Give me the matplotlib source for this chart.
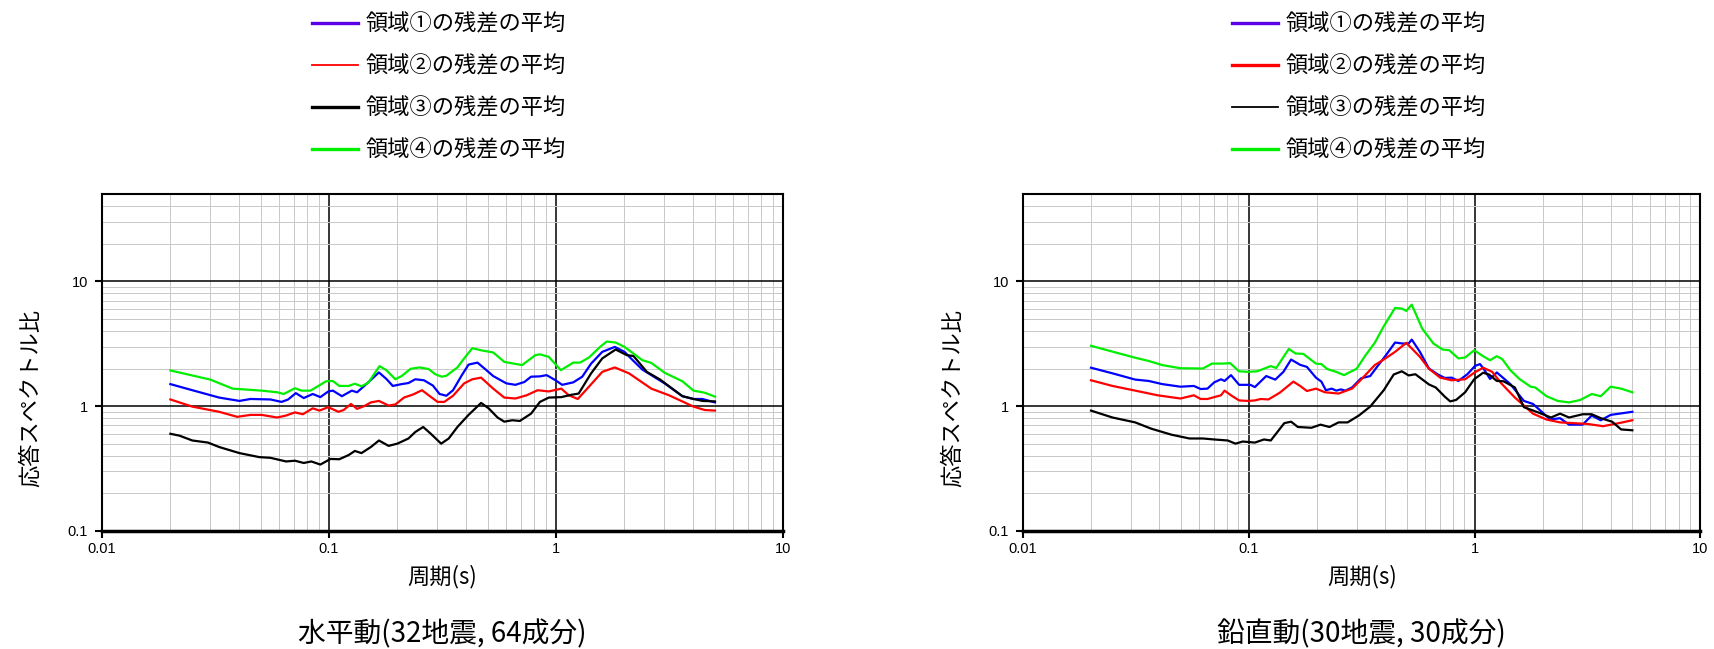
import numpy as np
import matplotlib
matplotlib.use('Agg')
import matplotlib.pyplot as plt
from matplotlib.ticker import LogLocator, FuncFormatter, NullFormatter
from matplotlib.lines import Line2D

plt.rcParams['font.family'] = ['Noto Sans CJK JP', 'DejaVu Sans']

labels = ['領域①の残差の平均', '領域②の残差の平均', '領域③の残差の平均', '領域④の残差の平均']
titles = ['水平動(32地震, 64成分)', '鉛直動(30地震, 30成分)']

# horizontal component
h1_t = [0.02, 0.025, 0.0328, 0.0403, 0.0451, 0.0552, 0.0618, 0.0661, 0.0714, 0.0774, 0.0848, 0.0916,
        0.0993, 0.104, 0.114, 0.126, 0.133, 0.146, 0.166, 0.179, 0.191, 0.209, 0.224, 0.240, 0.262,
        0.287, 0.307, 0.329, 0.352, 0.385, 0.412, 0.451, 0.494, 0.529, 0.605, 0.663, 0.726, 0.777,
        0.850, 0.910, 0.996, 1.065, 1.193, 1.306, 1.429, 1.60, 1.817, 2.005, 2.196, 2.404, 2.631,
        3.012, 3.608, 4.038, 4.422, 5.02]
h1_v = [1.50, 1.34, 1.17, 1.10, 1.14, 1.13, 1.08, 1.13, 1.27, 1.16, 1.25, 1.18,
        1.31, 1.33, 1.20, 1.33, 1.29, 1.50, 1.86, 1.65, 1.45, 1.50, 1.53, 1.64, 1.61,
        1.46, 1.25, 1.21, 1.34, 1.77, 2.15, 2.23, 1.94, 1.74, 1.52, 1.48, 1.56, 1.72,
        1.73, 1.77, 1.61, 1.48, 1.55, 1.72, 2.19, 2.72, 2.98, 2.72, 2.30, 1.96, 1.77,
        1.52, 1.20, 1.14, 1.14, 1.07]
h2_t = [0.02, 0.025, 0.0328, 0.0394, 0.0451, 0.0505, 0.0591, 0.0647, 0.0708, 0.0767, 0.0848, 0.0907,
        0.0993, 0.110, 0.116, 0.125, 0.133, 0.143, 0.153, 0.166, 0.183, 0.196, 0.214, 0.235, 0.257,
        0.275, 0.301, 0.322, 0.352, 0.394, 0.428, 0.468, 0.529, 0.592, 0.663, 0.742, 0.831, 0.930,
        1.056, 1.140, 1.248, 1.398, 1.60, 1.817, 2.098, 2.631, 3.151, 4.038, 4.526, 5.02]
h2_v = [1.13, 0.99, 0.90, 0.82, 0.85, 0.85, 0.81, 0.84, 0.89, 0.86, 0.96, 0.92,
        0.98, 0.90, 0.93, 1.04, 0.95, 1.00, 1.07, 1.10, 1.01, 1.03, 1.17, 1.24, 1.34,
        1.22, 1.08, 1.08, 1.21, 1.52, 1.64, 1.69, 1.38, 1.17, 1.15, 1.22, 1.34, 1.31,
        1.38, 1.22, 1.14, 1.43, 1.88, 2.04, 1.83, 1.38, 1.22, 0.99, 0.93, 0.92]
h3_t = [0.02, 0.0219, 0.025, 0.0293, 0.0328, 0.0403, 0.0493, 0.0552, 0.0647, 0.0708, 0.0774, 0.0836,
        0.0916, 0.1016, 0.111, 0.122, 0.130, 0.139, 0.153, 0.166, 0.183, 0.200, 0.224, 0.240, 0.260,
        0.281, 0.312, 0.337, 0.368, 0.412, 0.468, 0.505, 0.553, 0.592, 0.642, 0.693, 0.777, 0.850,
        0.930, 1.056, 1.166, 1.259, 1.429, 1.60, 1.833, 2.051, 2.196, 2.515, 2.879, 3.608, 4.038,
        4.422, 5.02]
h3_v = [0.60, 0.58, 0.53, 0.51, 0.47, 0.42, 0.39, 0.385, 0.36, 0.365, 0.35, 0.36,
        0.34, 0.377, 0.375, 0.405, 0.437, 0.42, 0.47, 0.53, 0.48, 0.50, 0.55, 0.62, 0.68,
        0.60, 0.50, 0.55, 0.68, 0.85, 1.06, 0.96, 0.81, 0.75, 0.77, 0.76, 0.87, 1.08,
        1.17, 1.18, 1.23, 1.26, 1.83, 2.41, 2.84, 2.56, 2.52, 1.88, 1.63, 1.20, 1.14,
        1.10, 1.09]
h4_t = [0.02, 0.030, 0.0376, 0.0505, 0.0591, 0.0632, 0.0708, 0.0757, 0.0829, 0.0887, 0.0971, 0.1039,
        0.111, 0.122, 0.130, 0.139, 0.149, 0.167, 0.179, 0.196, 0.209, 0.229, 0.251, 0.275, 0.294,
        0.314, 0.329, 0.368, 0.394, 0.428, 0.472, 0.529, 0.592, 0.709, 0.812, 0.850, 0.930, 1.051,
        1.193, 1.277, 1.398, 1.565, 1.674, 1.833, 2.005, 2.404, 2.631, 3.012, 3.608, 4.038, 4.526,
        5.02]
h4_v = [1.93, 1.63, 1.38, 1.33, 1.29, 1.25, 1.39, 1.33, 1.33, 1.43, 1.58, 1.59,
        1.45, 1.45, 1.51, 1.44, 1.54, 2.09, 1.94, 1.64, 1.74, 1.99, 2.04, 1.98, 1.80,
        1.72, 1.75, 2.04, 2.41, 2.91, 2.79, 2.69, 2.26, 2.13, 2.56, 2.60, 2.48, 1.94,
        2.23, 2.23, 2.45, 2.98, 3.29, 3.23, 2.98, 2.33, 2.22, 1.85, 1.58, 1.33, 1.28,
        1.19]

# vertical component
v1_t = [0.02, 0.0249, 0.0314, 0.036, 0.0414, 0.0498, 0.0571, 0.0612, 0.0656, 0.0703, 0.0753, 0.0781,
        0.0834, 0.0906, 0.1016, 0.1064, 0.1194, 0.131, 0.1423, 0.1539, 0.1688, 0.1809, 0.1983, 0.2096,
        0.2194, 0.233, 0.244, 0.2555, 0.2676, 0.2867, 0.3143, 0.3447, 0.3695, 0.4052, 0.4443, 0.4805,
        0.5102, 0.5268, 0.5725, 0.6277, 0.6882, 0.7377, 0.7907, 0.8473, 0.929, 1.0046, 1.057, 1.107,
        1.170, 1.254, 1.440, 1.653, 1.813, 1.943, 2.160, 2.390, 2.620, 3.009, 3.300, 3.620, 4.006,
        4.996]
v1_v = [2.03, 1.83, 1.63, 1.59, 1.50, 1.43, 1.45, 1.37, 1.38, 1.55, 1.64, 1.59,
        1.77, 1.48, 1.48, 1.42, 1.74, 1.63, 1.88, 2.36, 2.14, 2.06, 1.69, 1.57,
        1.34, 1.38, 1.33, 1.36, 1.33, 1.41, 1.67, 1.74, 2.06, 2.56, 3.23, 3.17,
        3.17, 3.41, 2.72, 2.00, 1.79, 1.68, 1.69, 1.59, 1.80, 2.10, 2.17, 1.94,
        1.65, 1.86, 1.50, 1.10, 1.04, 0.93, 0.78, 0.80, 0.71, 0.71, 0.84, 0.77, 0.85,
        0.90]
v2_t = [0.02, 0.0249, 0.0314, 0.0395, 0.0498, 0.0571, 0.0612, 0.0656, 0.0753, 0.0781, 0.0834, 0.0906,
        0.0993, 0.1064, 0.113, 0.1222, 0.1371, 0.1575, 0.1688, 0.1809, 0.1983, 0.2174, 0.2497, 0.2867,
        0.3143, 0.3611, 0.3959, 0.4443, 0.4985, 0.5725, 0.6277, 0.7042, 0.7907, 0.9078, 0.9954, 1.091,
        1.197, 1.313, 1.508, 1.813, 2.082, 2.390, 3.151, 3.704, 4.352, 4.996]
v2_v = [1.61, 1.45, 1.33, 1.22, 1.15, 1.22, 1.14, 1.14, 1.22, 1.33, 1.22, 1.11,
        1.10, 1.11, 1.14, 1.13, 1.28, 1.57, 1.45, 1.32, 1.38, 1.29, 1.26, 1.38,
        1.63, 2.13, 2.36, 2.72, 3.21, 2.48, 1.99, 1.69, 1.61, 1.64, 1.85, 2.03,
        1.88, 1.52, 1.17, 0.87, 0.78, 0.74, 0.72, 0.69, 0.73, 0.77]
v3_t = [0.02, 0.0249, 0.0314, 0.0369, 0.0454, 0.0546, 0.0626, 0.0703, 0.0807, 0.0873, 0.094, 0.1064,
        0.1167, 0.1251, 0.1436, 0.1539, 0.1649, 0.1894, 0.2077, 0.2277, 0.2497, 0.2738, 0.3072, 0.3447,
        0.3959, 0.4382, 0.4761, 0.5102, 0.5467, 0.6277, 0.6726, 0.7377, 0.7798, 0.8279, 0.9078, 0.9954,
        1.091, 1.159, 1.254, 1.343, 1.508, 1.653, 1.943, 2.179, 2.390, 2.620, 3.009, 3.300, 3.620,
        4.062, 4.453, 4.996]
v3_v = [0.92, 0.81, 0.74, 0.66, 0.59, 0.55, 0.55, 0.54, 0.53, 0.50, 0.52, 0.51,
        0.54, 0.53, 0.73, 0.75, 0.68, 0.67, 0.71, 0.68, 0.74, 0.74, 0.84, 0.99,
        1.34, 1.79, 1.90, 1.76, 1.80, 1.49, 1.41, 1.19, 1.09, 1.12, 1.29, 1.64,
        1.85, 1.79, 1.59, 1.58, 1.41, 0.98, 0.88, 0.81, 0.87, 0.81, 0.86, 0.86, 0.80,
        0.75, 0.65, 0.64]
v4_t = [0.02, 0.0261, 0.0314, 0.036, 0.0414, 0.0498, 0.0626, 0.0687, 0.0771, 0.0826, 0.0906, 0.0993,
        0.1089, 0.1251, 0.1322, 0.1504, 0.1612, 0.1743, 0.1983, 0.2096, 0.2225, 0.244, 0.2639, 0.3002,
        0.3292, 0.3611, 0.3959, 0.4443, 0.4761, 0.4985, 0.5268, 0.5858, 0.6573, 0.7209, 0.7727, 0.8473,
        0.9078, 0.9954, 1.091, 1.170, 1.254, 1.325, 1.440, 1.579, 1.771, 1.855, 2.082, 2.335, 2.620,
        2.941, 3.300, 3.620, 4.006, 4.453, 4.996]
v4_v = [3.04, 2.67, 2.44, 2.30, 2.13, 2.01, 2.00, 2.19, 2.19, 2.21, 1.90, 1.88,
        1.90, 2.09, 2.02, 2.87, 2.64, 2.62, 2.19, 2.17, 1.98, 1.88, 1.77, 1.99,
        2.56, 3.21, 4.36, 6.12, 6.04, 5.79, 6.50, 4.18, 3.17, 2.84, 2.80, 2.41,
        2.45, 2.80, 2.51, 2.33, 2.51, 2.38, 1.94, 1.65, 1.43, 1.41, 1.20, 1.10, 1.07,
        1.12, 1.25, 1.20, 1.43, 1.38, 1.29]

colors = ['#0000ff', '#ff0000', '#000000', '#00ee00']
legend_colors = ['#5a00e6', '#ff0000', '#000000', '#00ee00']

panels = [
    ([(h1_t, h1_v), (h2_t, h2_v), (h3_t, h3_v), (h4_t, h4_v)], [2.4, 1.3, 2.4, 2.4]),
    ([(v1_t, v1_v), (v2_t, v2_v), (v3_t, v3_v), (v4_t, v4_v)], [2.4, 2.4, 1.3, 2.4]),
]

fig = plt.figure(figsize=(17.15, 6.49), dpi=100)
axes_pos = [[0.0595, 0.182, 0.397, 0.519], [0.5965, 0.182, 0.395, 0.519]]
leg_x = [0.170, 0.7065]

for k, (series, leg_lw) in enumerate(panels):
    ax = fig.add_axes(axes_pos[k])
    for (t, v), c in zip(series, colors):
        ax.plot(t, v, color=c, lw=1.6, zorder=3)
    ax.set_xscale('log')
    ax.set_yscale('log')
    ax.set_xlim(0.01, 10)
    ax.set_ylim(0.1, 50)
    ax.xaxis.set_major_locator(LogLocator(base=10))
    ax.yaxis.set_major_locator(LogLocator(base=10))
    ax.xaxis.set_minor_locator(LogLocator(base=10, subs=np.arange(2, 10)))
    ax.yaxis.set_minor_locator(LogLocator(base=10, subs=np.arange(2, 10)))
    fmt = FuncFormatter(lambda val, pos: '%g' % val)
    ax.xaxis.set_major_formatter(fmt)
    ax.yaxis.set_major_formatter(fmt)
    ax.xaxis.set_minor_formatter(NullFormatter())
    ax.yaxis.set_minor_formatter(NullFormatter())
    ax.grid(which='major', color='black', lw=1.1, zorder=1)
    ax.grid(which='minor', color='#c8c8c8', lw=0.7, zorder=0)
    ax.tick_params(which='major', length=5, width=1.5, labelsize=10.5,
                   labelfontfamily='Liberation Sans')
    ax.tick_params(axis='y', which='major', pad=5)
    ax.tick_params(axis='x', which='major', pad=3)
    ax.tick_params(which='minor', length=0)
    for s in ax.spines.values():
        s.set_linewidth(1.5)
    ax.spines['bottom'].set_linewidth(2.5)
    ax.set_xlabel('周期(s)', fontsize=16, labelpad=6)
    ax.set_ylabel('応答スペクトル比', fontsize=16)
    ax.yaxis.set_label_coords(-0.088, 0.395)
    fig.text(axes_pos[k][0] + axes_pos[k][2] / 2, 0.022, titles[k], ha='center', va='center',
             fontsize=20)

    handles = [Line2D([], [], color=c, lw=w) for c, w in zip(legend_colors, leg_lw)]
    fig.legend(handles, labels, loc='upper left', bbox_to_anchor=(leg_x[k], 1.011), frameon=False,
               fontsize=16, handlelength=2.1, handletextpad=0.35, labelspacing=0.85)

fig.savefig('out.png', dpi=100)
